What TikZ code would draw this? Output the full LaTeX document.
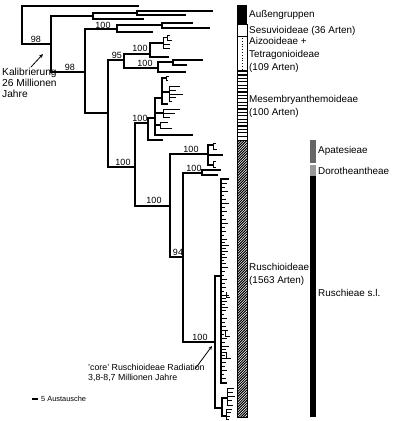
\documentclass[tikz,border=0pt]{standalone}
\usepackage{fontspec}
\setmainfont{Liberation Sans}
\usetikzlibrary{arrows.meta}
\begin{document}
\begin{tikzpicture}[x=1pt,y=-1pt,
  br/.style={line width=1.1pt,line cap=rect},
  tk/.style={line width=0.9pt},
  bs/.style={inner sep=0pt,font=\fontsize{9}{10}\selectfont},
  lab/.style={inner sep=0pt,anchor=west,align=left,font=\fontsize{9.9}{12.8}\selectfont},
  ann/.style={inner sep=0pt,anchor=west,align=left,font=\fontsize{8.8}{10.5}\selectfont},
  arr/.style={line width=0.8pt,-{Stealth[length=4pt,width=3.5pt]}},
  boxline/.style={line width=0.8pt},
  hatchline/.style={line width=1pt}]
\useasboundingbox (0,0) rectangle (400,421);

% ---------------- tree ----------------
% root
\coordinate (root) at (22,44);
\draw[br] (138,6) -| (root) -- (51,44);
% node 51
\draw[br] (93,16) -| (51,72) -- (85,72);
\draw[br] (137,13) -| (93,19) -- (143,19);
\draw[br] (212,11) -| (137,15) -- (185,15);
% node 85
\draw[br] (117,29) -| (85,113) -- (108,113);
\draw[br] (162,25) -| (117,32) -- (152,32);
\draw[br] (192,23) -| (162,28) -- (209,28);
% node 108
\draw[br] (124,60) -| (108,167) -- (135,167);
\draw[br] (150,54) -| (124,68) -- (158,68);
\draw[br] (163,43) -| (150,57) -- (168,57);
\draw[tk] (167,37) -| (163,48) -- (170,48);
\draw[tk] (170,35) -| (167,40) -- (172,40);
\draw[tk] (163,44) -- (170,44);
\draw[br] (173,62) -| (158,72) -- (185,72);
\draw[br] (202,60) -| (173,65) -- (186,65);
% node 135
\draw[br] (148,123) -| (135,206) -- (170,206);
% Mesembryanthemoideae crown
\draw[br] (155,118) -| (148,140) -- (162,140);
\draw[br] (162,98) -| (155,135) -- (192,135);
\draw[br] (155,113) -- (163,113);
\draw[br] (155,125) -- (160,125);
\draw[tk] (180,109) -| (163,117) -- (170,117);
\draw[tk] (163,113) -- (175,113);
\draw[tk] (168,122) -| (160,128) -- (172,128);
\draw[br] (166,78) -| (162,104) -- (167,104);
\draw[br] (162,92) -- (169,92);
\draw[tk] (169,76) -| (166,80) -- (168,80);
\draw[tk] (180,86) -| (169,101) -- (172,101);
\draw[tk] (169,90) -- (176,90);
\draw[tk] (169,94) -- (183,94);
\draw[tk] (169,97) -- (176,97);
% node 170
\draw[br] (208,154) -| (170,257) -- (183,257);
% Apatesieae
\draw[br] (213,145) -| (208,165) -- (213,165);
\draw[br] (208,155) -- (222,155);
\draw[tk] (216,143) -| (213,149) -- (217,149);
\draw[tk] (216,161) -| (213,167) -- (216,167);
% node 183
\draw[br] (202,173) -| (183,342) -- (215,342);
% Dorotheantheae
\draw[br] (220,170) -| (202,175) -- (217,175);
% core Ruschioideae
\draw[br] (221,276) -| (215,408) -- (222,408);
\draw[br] (228,179) -| (221,383) -- (226,383);
\foreach \yy/\ll in {183/6,187/4,191/7,195/3,199/5,203/8,207/4,211/6,215/3,219/5,
  223/7,227/4,231/5,235/3,239/6,242/4,245/8,248/5,251/7,254/4,257/6,260/3,263/5,
  267/7,271/4,275/3,279/6,283/4,287/5,291/3,295/8,298/5,301/6,304/4,307/7,310/5,
  314/3,318/6,322/4,326/5,330/7,334/3,338/6,342/4,346/8,349/5,352/6,355/4,358/7,
  362/5,366/4,370/6,374/3,378/5}
  {\draw[tk] (221,\yy) -- ++(\ll,0);}
\draw[tk] (226,292) |- (230,297);
\draw[tk] (226,352) |- (231,358);
\draw[tk] (225,330) |- (230,336);
% bottom clade
\draw[br] (227,398) -| (222,416) -- (226,416);
\draw[tk] (234,388) -| (227,405) -- (233,405);
\draw[tk] (227,392) -- (233,392);
\draw[tk] (227,396) -- (235,396);
\draw[tk] (227,400) -- (232,400);
\draw[tk] (232,409) -| (226,419) -- (229,419);
\draw[tk] (226,412) -- (231,412);
\draw[tk] (226,416) -- (230,416);

% bootstrap values
\node[bs] (b1) at (36,39) {98};
\node[bs] (b2) at (70,67) {98};
\node[bs] (b3) at (103,25) {100};
\node[bs] (b4) at (117,55) {95};
\node[bs] (b5) at (140,48) {100};
\node[bs] (b6) at (145,63) {100};
\node[bs] (b7) at (140,118) {100};
\node[bs] (b8) at (123,162) {100};
\node[bs] (b9) at (154,200) {100};
\node[bs] (b10) at (191,149) {100};
\node[bs] (b11) at (194,168) {100};
\node[bs] (b12) at (178,252) {94};
\node[bs] (b13) at (200,337) {100};

% annotations
\node[ann,font=\fontsize{10.2}{11}\selectfont] (kal) at (2,83) {Kalibrierung\\26 Millionen\\Jahre};
\coordinate (kalT) at (31,67);
\coordinate (kalH) at (43,54);
\draw[arr] (kalT) -- (kalH);
\node[ann] (core) at (88,373) {'core' Ruschioideae Radiation\\3,8-8,7 Millionen Jahre};
\coordinate (coreT) at (195,369);
\coordinate (coreH) at (212,346);
\draw[arr] (coreT) -- (coreH);

% scale bar
\coordinate (sb1) at (32,399);
\coordinate (sb2) at (38,399);
\draw[br,line cap=butt] (sb1) -- (sb2);
\node[inner sep=0pt,anchor=west,font=\fontsize{7.4}{9}\selectfont] (sbl) at (41,399) {5 Austausche};

% ---------------- bars column 1 ----------------
\fill[black] (237,5) rectangle (247,24);
\draw[boxline] (237,24) rectangle (247,36);
\draw[boxline] (237,36) rectangle (247,70);
\draw[line width=0.8pt,dotted] (242,38) -- (242,69);
\draw[boxline] (237,70) rectangle (247,140);
\foreach \yy in {71.5,74.9,...,139} {\draw[line width=1.2pt] (237,\yy) -- (247,\yy);}
\begin{scope}
  \clip (237,140) rectangle (247,417);
  \foreach \yy in {140,142.6,...,430} {\draw[hatchline] (237,\yy) -- (247,\yy-10);}
\end{scope}
\draw[line width=1pt] (237,140) rectangle (247,417);

\node[lab] (l1) at (249,15) {Außengruppen};
\node[lab] (l2) at (249,31) {Sesuvioideae (36 Arten)};
\node[lab] (l3) at (249,55) {Aizooideae +\\Tetragonioideae\\(109 Arten)};
\node[lab] (l4) at (249,106.5) {Mesembryanthemoideae\\(100 Arten)};
\node[lab] (l5) at (249,274.5) {Ruschioideae\\(1563 Arten)};

% ---------------- bars column 2 ----------------
\fill[black!60] (310,140) rectangle (316,163);
\fill[black!40] (310,165) rectangle (316,176);
\fill[black] (310,176) rectangle (316,417);
\node[lab] (l6) at (318,151) {Apatesieae};
\node[lab] (l7) at (318,171) {Dorotheantheae};
\node[lab] (l8) at (318,293) {Ruschieae s.l.};
\end{tikzpicture}
\end{document}
